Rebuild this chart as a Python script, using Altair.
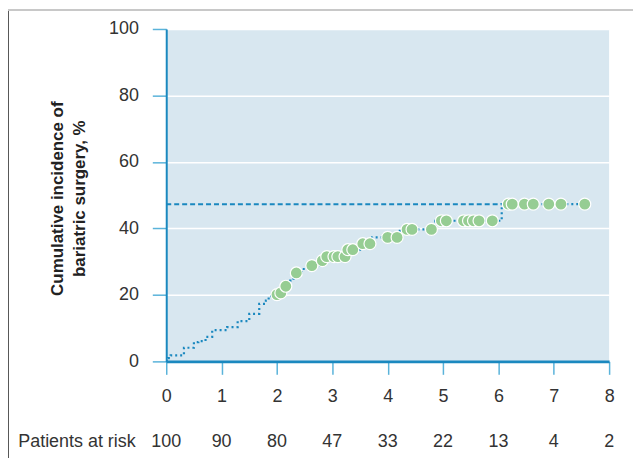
import altair as alt
import pandas as pd

# Step curve (cumulative incidence, %) breakpoints
curve_t = [0, 0.03, 0.08, 0.32, 0.50, 0.58, 0.71, 0.83, 1.10, 1.29, 1.50, 1.68, 1.80, 1.85,
           2.00, 2.07, 2.12, 2.24, 2.30, 2.45, 2.58, 2.78, 2.88, 3.26, 3.50, 3.72, 4.22,
           4.86, 6.06, 7.56]
curve_p = [0, 1.0, 1.8, 4.1, 5.8, 6.1, 7.4, 9.4, 10.3, 12.1, 14.3, 17.3, 18.3, 19.6,
           20.1, 20.6, 22.6, 24.3, 26.6, 27.8, 28.8, 30.3, 31.5, 33.6, 35.4, 37.3, 39.7,
           42.3, 47.3, 47.3]

# Censoring markers
censor_t = [2.00, 2.07, 2.16, 2.35, 2.63, 2.82, 2.90, 3.03, 3.10, 3.23, 3.28, 3.37, 3.55, 3.68,
            4.00, 4.17, 4.35, 4.44, 4.79,
            4.97, 5.06, 5.37, 5.46, 5.55, 5.65, 5.89,
            6.18, 6.25, 6.47, 6.63, 6.91, 7.13, 7.56]
censor_p = [20.1, 20.6, 22.6, 26.6, 28.8, 30.3, 31.5, 31.5, 31.5, 31.5, 33.6, 33.6, 35.4, 35.4,
            37.3, 37.3, 39.7, 39.7, 39.7,
            42.3, 42.3, 42.3, 42.3, 42.3, 42.3, 42.3,
            47.3, 47.3, 47.3, 47.3, 47.3, 47.3, 47.3]

# Plateau (dashed reference line)
plateau_t = [0, 6.06]
plateau_p = [47.3, 47.3]

# Patients at risk
risk_t = [0, 1, 2, 3, 4, 5, 6, 7, 8]
risk_n = [100, 90, 80, 47, 33, 22, 13, 4, 2]

x_ticks = [0, 1, 2, 3, 4, 5, 6, 7, 8]
y_ticks = [0, 20, 40, 60, 80, 100]
y_title = ["Cumulative incidence of", "bariatric surgery, %"]

W, H = 445, 334
FONT = "Liberation Sans"
FS = 18
LINE = "#1a88bf"

xs = alt.Scale(domain=[0, 8], nice=False)
ys = alt.Scale(domain=[0, 100], nice=False)

def X(field):
    return alt.X(field, type="quantitative", scale=xs, title=None,
                 axis=alt.Axis(values=x_ticks, format="d"))

def Y(field):
    return alt.Y(field, type="quantitative", scale=ys, title=y_title,
                 axis=alt.Axis(values=y_ticks, format="d"))

curve_df = pd.DataFrame({"t": curve_t, "p": curve_p})
censor_df = pd.DataFrame({"t": censor_t, "p": censor_p})
plateau_df = pd.DataFrame({"t": plateau_t, "p": plateau_p})
risk_df = pd.DataFrame({"t": risk_t, "n": risk_n})
one = pd.DataFrame({"a": [0]})

plateau = alt.Chart(plateau_df).mark_line(
    color=LINE, strokeWidth=2, strokeDash=[5, 3]
).encode(x=X("t"), y=Y("p"))

curve = alt.Chart(curve_df).mark_line(
    color=LINE, strokeWidth=2.2, strokeDash=[2, 3], interpolate="step-after"
).encode(x=X("t"), y=Y("p"))

points = alt.Chart(censor_df).mark_circle(
    size=145, fill="#96cd93", stroke="white", strokeWidth=1.2, opacity=1
).encode(x=X("t"), y=Y("p"))

risk = alt.Chart(risk_df).mark_text(
    font=FONT, fontSize=FS, color="#333333", baseline="alphabetic", align="center"
).encode(x=X("t"), y=alt.value(H + 86), text="n:N")

risk_label = alt.Chart(one).mark_text(
    font=FONT, fontSize=FS, color="#333333", baseline="alphabetic", align="left"
).encode(x=alt.value(-148.7), y=alt.value(H + 86), text=alt.value("Patients at risk"))

frame_left = alt.Chart(one).mark_rule(color="#555555", strokeWidth=1).encode(
    x=alt.value(-158.5), y=alt.value(-20), y2=alt.value(440))
frame_top = alt.Chart(one).mark_rule(color="#c8c8c8", strokeWidth=2).encode(
    y=alt.value(-19), x=alt.value(-159), x2=alt.value(480))

chart = alt.layer(
    plateau, curve, points, risk, risk_label, frame_left, frame_top
).properties(
    width=W, height=H,
    autosize=alt.AutoSizeParams(type="none"),
    padding={"left": 159, "top": 20, "right": 24, "bottom": 96},
).configure_view(
    fill="#d8e7f0", strokeWidth=0
).configure_axisX(
    domainColor=LINE, domainWidth=2.8, tickColor="#5ab3da", tickWidth=1.5,
    tickSize=13, labelPadding=13, labelFontSize=FS, labelFont=FONT,
    labelColor="#333333", grid=False, labelFlush=False
).configure_axisY(
    domainColor=LINE, domainWidth=2, tickColor="#5ab3da", tickWidth=1.5,
    tickSize=14, labelPadding=14, labelFontSize=FS, labelFont=FONT,
    labelColor="#333333", grid=True, gridColor="white", gridWidth=1.5,
    labelFlush=False,
    titleFont=FONT, titleFontSize=17, titleFontWeight="bold", titleColor="#222222",
    titleAngle=270, titleAlign="center", titleBaseline="middle", titleLineHeight=22,
    titleX=-109, titleY=170
)

chart.save("out.html", embed_options={"renderer": "svg", "actions": False})
